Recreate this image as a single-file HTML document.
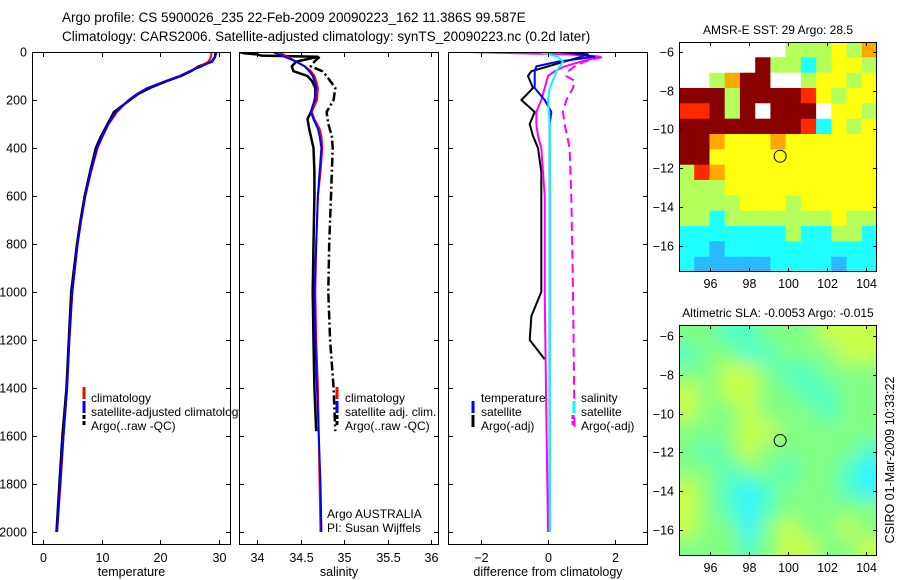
<!DOCTYPE html>
<html><head><meta charset="utf-8">
<style>
html,body{margin:0;padding:0;background:#fff;}
svg{display:block;font-family:"Liberation Sans",sans-serif;}
text{font-size:12.5px;fill:#000;}
</style></head>
<body>
<svg id="fig" width="900" height="580" viewBox="0 0 900 580" xmlns="http://www.w3.org/2000/svg">
<defs>
<clipPath id="c1"><rect x="32" y="52" width="199" height="493"/></clipPath>
<clipPath id="c2"><rect x="239" y="52" width="200" height="493"/></clipPath>
<clipPath id="c3"><rect x="448" y="52" width="200" height="493"/></clipPath>
<clipPath id="m1c"><rect x="679" y="42" width="198" height="230"/></clipPath>
<clipPath id="m2c"><rect x="679" y="325" width="198" height="231"/></clipPath>
<filter id="blur"><feGaussianBlur stdDeviation="9"/></filter>
</defs>
<text x="62" y="22" style="font-size:13.5px">Argo profile: CS 5900026_235 22-Feb-2009 20090223_162 11.386S 99.587E</text>
<text x="62" y="41" style="font-size:13.5px">Climatology: CARS2006. Satellite-adjusted climatology: synTS_20090223.nc (0.2d later)</text>
<g id="root"></g>
</svg>
<script>
// ---- data ----
const tDepth = [0,20,40,60,80,100,120,150,175,200,250,300,350,400,500,600,700,800,1000,1200,1400,1600,1800,2000];
const tClim = [28.7,28.6,28.2,26.8,25,23.3,21,17.8,16,14.6,12.6,11.2,10.2,9.3,8.2,7.2,6.5,5.9,5.0,4.5,4.1,3.5,3.0,2.4];
const tSat = [29.6,29.3,28.6,27,25,23.3,21,17.8,16,14.6,12.4,11.1,10.1,9.2,8.1,7.2,6.5,5.9,5.0,4.5,4.1,3.5,2.9,2.4];
const tArgo = [29.4,29.3,28.8,26.5,25.2,23.5,21.2,18.2,16.2,14.8,12.1,11.0,9.9,9.0,8.0,7.1,6.4,5.8,4.8,4.4,4.0,3.3,2.8,2.3];

const sDepth = [0,20,40,60,80,100,120,150,200,250,280,320,350,400,500,600,800,1000,1200,1400,1600,1800,2000];
const sClim = [34.25,34.35,34.45,34.55,34.62,34.66,34.68,34.70,34.69,34.63,34.66,34.72,34.74,34.75,34.73,34.70,34.68,34.67,34.68,34.70,34.71,34.72,34.73];
const sSat = [34.18,34.32,34.45,34.55,34.60,34.64,34.66,34.68,34.66,34.62,34.65,34.70,34.72,34.74,34.72,34.70,34.68,34.66,34.67,34.69,34.71,34.73,34.74];
const sArgoDepth = [0,5,10,15,20,40,60,80,100,120,150,200,250,280,320,400,500,600,800,1000,1200,1400,1580];
const sArgo = [33.8,33.85,34.0,34.05,34.7,34.45,34.40,34.42,34.58,34.63,34.67,34.67,34.62,34.58,34.60,34.65,34.66,34.66,34.65,34.64,34.65,34.66,34.68];
const sRawDepth = [20,40,60,80,100,150,200,250,300,350,400,600,800,1000,1200,1400,1580];
const sRaw = [34.72,34.66,34.62,34.75,34.8,34.9,34.88,34.8,34.82,34.86,34.87,34.85,34.83,34.82,34.84,34.88,34.9];

const dTSatDepth = [0,20,40,60,80,100,150,200,250,300,400,600,1000,1500,2000];
const dTSat = [0.5,1.4,0.3,-0.35,-0.4,-0.4,-0.4,-0.1,0.1,0.05,0.05,0.05,0.05,0.05,0.05];
const dTArgoDepth = [0,10,20,40,60,80,100,150,200,250,300,350,400,500,600,800,1000,1100,1200,1280];
const dTArgo = [0.3,1.2,1.0,0.5,0.0,-0.5,-0.6,-0.45,-0.8,-0.4,-0.55,-0.45,-0.3,-0.2,-0.2,-0.2,-0.2,-0.5,-0.55,-0.1];
const dSSatDepth = [0,20,40,60,80,100,150,200,300,600,1000,1500,2000];
const dSSat = [-0.25,0.3,0.45,0.35,0.25,0.2,0.05,0,0.05,0.05,0.05,0.05,0.05];
const dSArgoDepth = [0,10,20,40,60,80,100,150,200,250,300,350,400,500,600,1000,1500,2000];
const dSArgo = [-2.4,0.6,1.55,1.0,0.5,0.2,0,-0.1,-0.2,-0.35,-0.35,-0.3,-0.2,-0.15,-0.1,-0.1,-0.05,0];
const dSRawDepth = [0,20,40,60,80,100,120,150,200,250,300,400,600,1000,1580];
const dSRaw = [0.0,1.65,1.1,0.8,0.6,0.55,0.8,0.75,0.55,0.45,0.5,0.65,0.7,0.75,0.8];

const depthTicks = [0,200,400,600,800,1000,1200,1400,1600,1800,2000];
const tempTicks = [0,10,20,30];
const salTicks = [34,34.5,35,35.5,36];
const diffTicks = [-2,0,2];
const latTicks = [-6,-8,-10,-12,-14,-16];
const lonTicks = [96,98,100,102,104];

const sstGrid = [
"WWWWWWWGGGYGO",
"WWWWWDGGCGYYG",
"WWGODDWWGYYGY",
"DDDGDDDDRYGYY",
"RRDGDWDDDWYYG",
"DDDDDDDDRCYGY",
"DDOYYYOYYYYYY",
"DDYYYYYYYYYYY",
"GROYYYYYYYYYY",
"GGGYYYYYYYYYY",
"GGGGYYYGYYYYY",
"GGCGGGGGGGYGG",
"CCCCCCCGCCGGC",
"CCBCCCCCCCCCC",
"CBBBBBCCCCBCC"];
const slaGrid = [
"GGCCGGGYYY",
"CGGCCGGGYY",
"GGYYGCCGGG",
"YGYYGGCCGG",
"YGGYGGGCGG",
"GGGYYGGGGG",
"GCGYGGGGGC",
"GGCGGCGGCA",
"YGCACGGGCA",
"YGCACGGGGG",
"YGGAGYGGYG",
"GGGCGYYGGY"];
const argoLon = 99.587, argoLat = -11.386;

// ---- helpers ----
const NS="http://www.w3.org/2000/svg";
const root=document.getElementById('root');
function el(tag,attrs,parent){const e=document.createElementNS(NS,tag);for(const k in attrs)e.setAttribute(k,attrs[k]);(parent||root).appendChild(e);return e;}
function txt(x,y,s,anchor,parent,extra){const e=el('text',Object.assign({x:x,y:y,'text-anchor':anchor||'start'},extra||{}),parent);e.textContent=s;return e;}
const Y0=52, Y1=545;
const yD = d => 52 + d*0.24;
const panels = [
 {x0:32,x1:231,sx:v=>43+5.87*v},
 {x0:239,x1:439,sx:v=>257+87*(v-34)},
 {x0:448,x1:648,sx:v=>548+33.3*v}
];
function frame(p){
  el('rect',{x:p.x0,y:Y0,width:p.x1-p.x0,height:Y1-Y0,fill:'#fff',stroke:'none'});
}
function axes(p,ticks,fmt,label,name,showDepth){
  const g=el('g',{});
  
  
  el('rect',{x:p.x0+0.5,y:Y0+0.5,width:p.x1-p.x0-1,height:Y1-Y0-1,fill:'none',stroke:'#000','stroke-width':1},g);
  ticks.forEach(t=>{const x=Math.round(p.sx(t))+0.5;
    el('line',{x1:x,y1:Y1,x2:x,y2:Y1-5,stroke:'#000'},g);
    el('line',{x1:x,y1:Y0,x2:x,y2:Y0+5,stroke:'#000'},g);
    txt(x,562,fmt(t),'middle',g);});
  depthTicks.forEach(d=>{const y=Math.round(yD(d))+0.5;
    el('line',{x1:p.x0,y1:y,x2:p.x0+5,y2:y,stroke:'#000'},g);
    el('line',{x1:p.x1-5,y1:y,x2:p.x1,y2:y,stroke:'#000'},g);
    if(showDepth) txt(p.x0-5,y+4,String(d),'end',g);});
  const t=txt((p.x0+p.x1)/2,576,label,'middle',g);
  
}
function line(p,clip,depths,vals,color,name,dash,w){
  let d='';depths.forEach((dd,i)=>{d+=(i?'L':'M')+p.sx(vals[i]).toFixed(1)+','+yD(dd).toFixed(1);});
  const a={d:d,fill:'none',stroke:color,'stroke-width':w||2,'clip-path':'url(#'+clip+')','stroke-linejoin':'round'};
  if(dash)a['stroke-dasharray']=dash;
  const e=el('path',a);
  
  
}
function mark(x,y,color,dash){const a={x1:x,y1:y-9,x2:x,y2:y+3,stroke:color,'stroke-width':3};if(dash)a['stroke-dasharray']=dash;el('line',a);}
const LS={style:'font-size:12px'};

// panel 1
frame(panels[0]);
line(panels[0],'c1',tDepth,tArgo,'#000','temp-argo-line',null,2.5);
line(panels[0],'c1',tDepth,tClim,'#f00','temp-climatology-line');
line(panels[0],'c1',tDepth,tSat,'#00f','temp-satellite-line');
mark(84,396,'#f00');mark(84,410,'#00f');mark(84,424,'#000','4,2');
let e;
e=txt(91,402,'climatology',null,null,LS);
e=txt(91,416,'satellite-adjusted climatology',null,null,LS);
e=txt(91,430,'Argo(..raw -QC)',null,null,LS);
axes(panels[0],tempTicks,String,'temperature','temperature',true);

// panel 2
frame(panels[1]);
line(panels[1],'c2',sRawDepth,sRaw,'#000','sal-argo-raw-line','9,3,2,3',2.5);
line(panels[1],'c2',sArgoDepth,sArgo,'#000','sal-argo-line',null,2.5);
line(panels[1],'c2',sDepth,sClim,'#f00','sal-climatology-line');
line(panels[1],'c2',sDepth,sSat,'#00f','sal-satellite-line');
mark(337,396,'#f00');mark(337,410,'#00f');mark(337,424,'#000','4,2');
e=txt(345,402,'climatology',null,null,LS);
e=txt(345,416,'satellite adj. clim.',null,null,LS);
e=txt(345,430,'Argo(..raw -QC)',null,null,LS);
e=txt(327,518,'Argo AUSTRALIA',null,null,LS);
e=txt(327,532,'PI: Susan Wijffels',null,null,LS);
axes(panels[1],salTicks,String,'salinity','salinity',false);

// panel 3
frame(panels[2]);
line(panels[2],'c3',dSRawDepth,dSRaw,'#f0f','diff-sal-argo-raw-line','9,5');
line(panels[2],'c3',dTArgoDepth,dTArgo,'#000','diff-temp-argo-line',null,2);
line(panels[2],'c3',dSArgoDepth,dSArgo,'#f0f','diff-sal-argo-line');
line(panels[2],'c3',dTSatDepth,dTSat,'#00f','diff-temp-satellite-line');
line(panels[2],'c3',dSSatDepth,dSSat,'#0ff','diff-sal-satellite-line');
mark(473,410,'#00f');mark(473,424,'#000');mark(574,410,'#0ff');mark(573,424,'#f0f','4,2');
e=txt(481,402,'temperature',null,null,LS);
e=txt(481,416,'satellite',null,null,LS);
e=txt(481,430,'Argo(-adj)',null,null,LS);
e=txt(581,402,'salinity',null,null,LS);
e=txt(581,416,'satellite',null,null,LS);
e=txt(581,430,'Argo(-adj)',null,null,LS);
axes(panels[2],diffTicks,v=>v<0?'\u2212'+(-v):String(v),'difference from climatology','difference',false);

// maps
const sstCol={W:'#ffffff',D:'#880000',R:'#ff2a00',O:'#ffa800',Y:'#ffff10',G:'#b4ff5a',C:'#20ffff',B:'#2ab8ff'};
const slaCol={G:'#80ff84',Y:'#c8ff48',C:'#50ffc4',A:'#30f4ff'};
function map(m,grid,cols,title,name,blur){
  const g=el('g',{});
  
  
  const lx=v=>m.x0+(v-m.lon0)*19.5, ly=v=>m.y0+(m.lat0-v)*19.4;
  const gc=el('g',{'clip-path':'url(#'+m.clip+')'},g);
  const gi=el('g',blur?{filter:'url(#blur)'}:{},gc);
  const nr=grid.length,nc=grid[0].length,cw=(m.x1-m.x0)/nc,ch=(m.y1-m.y0)/nr;
  if(blur) el('rect',{x:m.x0-20,y:m.y0-20,width:m.x1-m.x0+40,height:m.y1-m.y0+40,fill:'#80ff84'},gi);
  grid.forEach((row,r)=>{for(let c=0;c<nc;c++){
    const x=m.x0+c*cw,y=m.y0+r*ch;
    const cell=el('rect',{x:(blur&&c==0?x-20:x).toFixed(1),y:(blur&&r==0?y-20:y).toFixed(1),width:(cw+(blur&&(c==0||c==nc-1)?21:0.6)).toFixed(1),height:(ch+(blur&&(r==0||r==nr-1)?21:0.6)).toFixed(1),fill:cols[row[c]]},gi);
    
  }});
  el('circle',{cx:lx(argoLon),cy:ly(argoLat),r:6,fill:'none',stroke:'#000','stroke-width':1},g);
  el('rect',{x:m.x0+0.5,y:m.y0+0.5,width:m.x1-m.x0-1,height:m.y1-m.y0-1,fill:'none',stroke:'#000'},g);
  latTicks.forEach(v=>{const y=Math.round(ly(v))+0.5;
    el('line',{x1:m.x0,y1:y,x2:m.x0+4,y2:y,stroke:'#000'},g);
    el('line',{x1:m.x1-4,y1:y,x2:m.x1,y2:y,stroke:'#000'},g);
    txt(m.x0-5,y+4,'\u2212'+(-v),'end',g);});
  lonTicks.forEach(v=>{const x=Math.round(lx(v))+0.5;
    el('line',{x1:x,y1:m.y1,x2:x,y2:m.y1-4,stroke:'#000'},g);
    el('line',{x1:x,y1:m.y0,x2:x,y2:m.y0+4,stroke:'#000'},g);
    txt(x,m.y1+16,String(v),'middle',g);});
  const t=txt((m.x0+m.x1)/2,m.y0-8,title,'middle',g,{style:'font-size:12px'});
  
}
map({x0:679,x1:877,y0:42,y1:272,lon0:94.4,lat0:-5.5,clip:'m1c'},sstGrid,sstCol,'AMSR-E SST: 29 Argo: 28.5','sst-map',false);
map({x0:679,x1:877,y0:325,y1:556,lon0:94.4,lat0:-5.43,clip:'m2c'},slaGrid,slaCol,'Altimetric SLA: -0.0053 Argo: -0.015','sla-map',true);
e=txt(0,0,'CSIRO 01-Mar-2009 10:33:22','middle',null,{transform:'translate(894,460) rotate(-90)'});

</script>
</body></html>
